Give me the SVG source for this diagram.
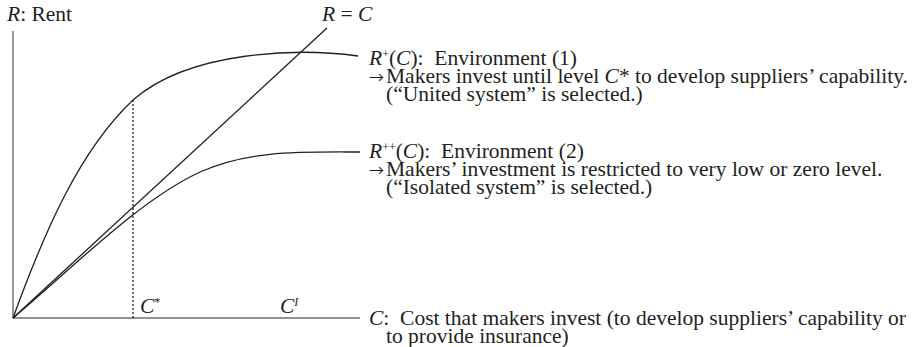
<svg xmlns="http://www.w3.org/2000/svg" width="912" height="347" viewBox="0 0 912 347">
<style>
text{font-family:"Liberation Serif","Times New Roman",serif;font-size:21.5px;fill:#231f20}
.i{font-style:italic}
.sup{font-size:12px}
.arr{font-family:"Noto Sans CJK JP","Noto Sans",sans-serif;font-size:15px}
.axis{stroke:#6d6d6d;stroke-width:1.4;fill:none}
.curve{stroke:#231f20;stroke-width:1.3;fill:none}
.dot{stroke:#231f20;stroke-width:1.3;stroke-dasharray:2 2;fill:none}
</style>
<rect width="912" height="347" fill="#fff"/>
<g id="axes">
<line class="axis" x1="13" y1="31" x2="13" y2="318"/>
<line class="axis" x1="13" y1="318" x2="360" y2="318"/>
<text x="7" y="21"><tspan class="i">R</tspan>: Rent</text>
</g>
<g id="connectors">
<path id="r-eq-c" class="curve" d="M13,318 L327,28"/>
<path id="r-plus" class="curve" d="M13,318 C45,230 80,150 133,100 C190,50 300,48 358,56"/>
<path id="r-plusplus" class="curve" d="M13,318 C80,261 140,200 200,172 C250,150 300,152 360,152"/>
<line id="cstar-line" class="dot" x1="133" y1="100" x2="133" y2="318"/>
</g>
<g id="label-rc"><text x="322" y="21"><tspan class="i">R</tspan> = <tspan class="i">C</tspan></text></g>
<g id="label-cstar"><text x="140" y="313"><tspan class="i">C</tspan><tspan class="sup" baseline-shift="7">*</tspan></text></g>
<g id="label-ci"><text x="280" y="313"><tspan class="i">C</tspan><tspan class="i sup" baseline-shift="7">I</tspan></text></g>
<g id="env1">
<text x="369" y="65" xml:space="preserve"><tspan class="i">R</tspan><tspan class="sup" baseline-shift="7">+</tspan>(<tspan class="i">C</tspan>):  Environment (1)</text>
<text class="arr" x="369" y="83">→</text>
<text x="386" y="83">Makers invest until level <tspan class="i">C</tspan>* to develop suppliers’ capability.</text>
<text x="386" y="101">(“United system” is selected.)</text>
</g>
<g id="env2">
<text x="369" y="158" xml:space="preserve"><tspan class="i">R</tspan><tspan class="sup" baseline-shift="7">++</tspan>(<tspan class="i">C</tspan>):  Environment (2)</text>
<text class="arr" x="369" y="176">→</text>
<text x="386" y="176">Makers’ investment is restricted to very low or zero level.</text>
<text x="386" y="194">(“Isolated system” is selected.)</text>
</g>
<g id="cost">
<text x="369" y="325" xml:space="preserve"><tspan class="i">C</tspan>:  Cost that makers invest (to develop suppliers’ capability or</text>
<text x="386" y="343">to provide insurance)</text>
</g>
</svg>
